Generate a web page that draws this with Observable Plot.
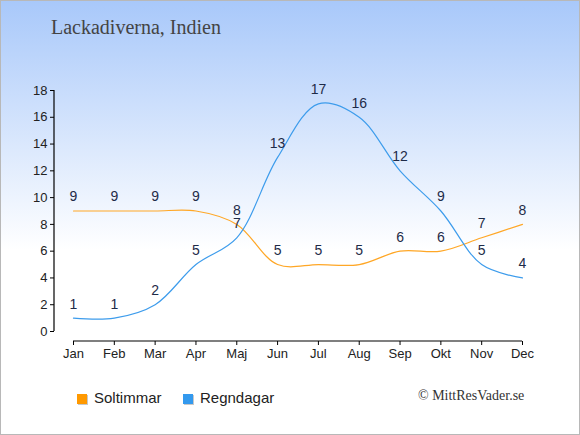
<!DOCTYPE html>
<html>
<head>
<meta charset="utf-8">
<script src="https://cdn.jsdelivr.net/npm/d3@7"></script>
<script src="https://cdn.jsdelivr.net/npm/@observablehq/plot@0.6"></script>
<style>
  body { margin: 0; }
  #wrap {
    position: relative; width: 580px; height: 435px; overflow: hidden;
    background: linear-gradient(to bottom, #a8c8fa 0px, #ffffff 250px);
    box-shadow: inset 0 0 0 1px #b8b8b8;
    font-family: "Liberation Sans", Arial, sans-serif;
  }
  #chart { position: absolute; left: 0; top: 0; }
  #title {
    position: absolute; left: 51px; top: 16px;
    font-family: "Liberation Serif", serif; font-size: 20px; color: #444;
  }
  #legend { position: absolute; left: 77px; top: 389px; font-size: 15px; color: #222; }
  .item { position: absolute; white-space: nowrap; }
  .sw { position: absolute; top: 5px; width: 10px; height: 10px; box-shadow: 1px 1px 0 #c8c8c8; }
  .lab { position: absolute; left: 17px; top: 0; }
  #credit {
    position: absolute; left: 418px; top: 388px;
    font-family: "Liberation Serif", serif; font-size: 14px; color: #333; white-space: nowrap;
  }
</style>
</head>
<body>
<div id="wrap">
  <div id="chart"></div>
  <div id="title">Lackadiverna, Indien</div>
  <div id="legend">
    <div class="item" style="left:0"><div class="sw" style="background:#ff9900"></div><div class="lab">Soltimmar</div></div>
    <div class="item" style="left:106px"><div class="sw" style="background:#3399ee"></div><div class="lab">Regndagar</div></div>
  </div>
  <div id="credit">© MittResVader.se</div>
</div>
<script>
const months = ["Jan","Feb","Mar","Apr","Maj","Jun","Jul","Aug","Sep","Okt","Nov","Dec"];
const soltimmar = [9,9,9,9,8,5,5,5,6,6,7,8];
const regndagar = [1,1,2,5,7,13,17,16,12,9,5,4];
const yTicks = [0,2,4,6,8,10,12,14,16,18];

const sol = months.map((m, i) => ({month: m, value: soltimmar[i]}));
const regn = months.map((m, i) => ({month: m, value: regndagar[i]}));

const axisLines = (index, scales, values, dims) => {
  const g = d3.create("svg:g").attr("stroke", "#000").attr("stroke-width", 1.2);
  const xl = dims.marginLeft;
  g.append("line").attr("x1", xl).attr("x2", xl)
    .attr("y1", scales.y(yTicks[yTicks.length - 1])).attr("y2", scales.y(yTicks[0]));
  const yb = dims.height - dims.marginBottom;
  g.append("line").attr("x1", scales.x(months[0])).attr("x2", scales.x(months[months.length - 1]))
    .attr("y1", yb).attr("y2", yb);
  return g.node();
};

const chart = Plot.plot({
  width: 580, height: 435,
  marginLeft: 54, marginRight: 58, marginTop: 90, marginBottom: 94,
  style: {background: "transparent", fontFamily: "Liberation Sans, Arial, sans-serif"},
  x: {type: "point", domain: months, range: [73, 522], padding: 0, round: false},
  y: {domain: [0, 18], range: [331, 90]},
  marks: [
    axisLines,
    Plot.axisY({ticks: yTicks, tickSize: 4, tickPadding: 3, fontSize: 13, label: null, fill: "#222", stroke: "#000"}),
    Plot.axisX({ticks: months, tickSize: 4, tickPadding: 3, fontSize: 13, label: null, fill: "#222", stroke: "#000"}),
    Plot.line(sol, {x: "month", y: "value", stroke: "#ffa726", strokeWidth: 1.2, curve: "catmull-rom"}),
    Plot.line(regn, {x: "month", y: "value", stroke: "#3d9cec", strokeWidth: 1.2, curve: "catmull-rom"}),
    Plot.text(sol, {x: "month", y: "value", text: "value", dy: -14, fontSize: 14, fill: "#1e2b48"}),
    Plot.text(regn, {x: "month", y: "value", text: "value", dy: -14, fontSize: 14, fill: "#1e2b48"})
  ]
});
document.getElementById("chart").appendChild(chart);
</script>
</body>
</html>
